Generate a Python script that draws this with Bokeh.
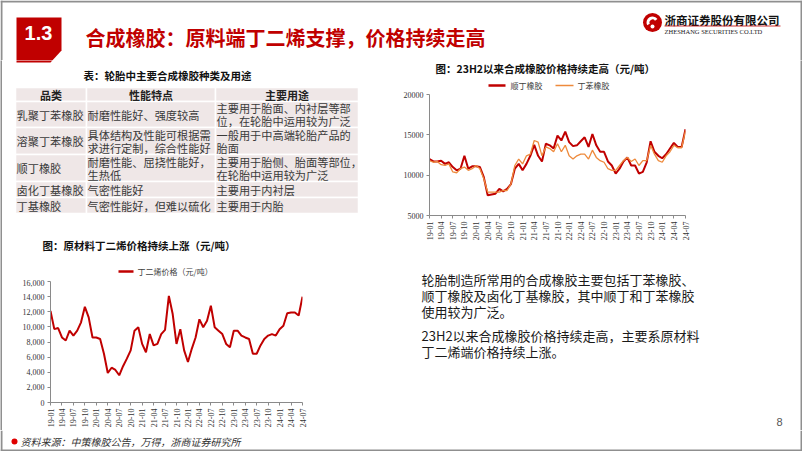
import math
from bokeh.plotting import figure
from bokeh.layouts import column, row
from bokeh.models import Range1d, FixedTicker, NumeralTickFormatter
from bokeh.core.properties import value
from bokeh.embed import file_html
from bokeh.resources import INLINE

# ---------------- data ----------------
MONTHS = [f"{y - 2000}-{m:02d}" for y in range(2019, 2025) for m in range(1, 13)][:67]
TICK_LABELS = ["19-01", "19-04", "19-07", "19-10", "20-01", "20-04", "20-07", "20-10",
               "21-01", "21-04", "21-07", "21-10", "22-01", "22-04", "22-07", "22-10",
               "23-01", "23-04", "23-07", "23-10", "24-01", "24-04", "24-07"]

BUTADIENE = [12100, 9700, 9850, 8600, 8200, 9500, 8850, 9500, 10600, 12650, 11250, 8600,
             8600, 8400, 6450, 3900, 4600, 4300, 3600, 4800, 5800, 6900, 9500, 9950,
             7750, 6650, 9050, 7550, 7750, 9050, 9600, 14100, 11700, 7750, 9700, 6900,
             5350, 7100, 8600, 11000, 9950, 10800, 12800, 9950, 9500, 9050, 7750, 7300,
             9500, 9500, 8850, 8600, 8400, 6450, 6450, 7550, 8400, 8850, 9050, 8850,
             9700, 10150, 11800, 11900, 11900, 11500, 14000]

BR = [12000, 11700, 11700, 11800, 11400, 11600, 11000, 10600, 10800, 12400, 10800, 11100,
      11100, 11000, 9750, 7500, 7600, 7700, 8300, 8000, 8300, 8900, 10800, 11400,
      10600, 11400, 12400, 13750, 12400, 11700, 13900, 13700, 13300, 14900, 14300, 15400,
      14100, 13600, 13700, 14200, 14700, 13500, 15100, 13700, 12900, 12900, 11700, 11200,
      10200, 10800, 11700, 12200, 11200, 11200, 10200, 10400, 11600, 14200, 12900, 12400,
      12100, 12600, 13300, 14000, 13500, 13500, 15700]

SBR = [11800, 11600, 11700, 11300, 11200, 11400, 10400, 10300, 10800, 11000, 10600, 10800,
       11200, 10800, 9550, 7900, 7900, 7900, 7900, 8100, 8100, 8900, 11200, 12000,
       11400, 12400, 12600, 14300, 14100, 12400, 13500, 13300, 12900, 13900, 12900, 13700,
       12400, 12000, 12400, 12600, 12600, 12000, 13100, 12200, 11800, 11600, 10800, 10600,
       10600, 11200, 11800, 12200, 11700, 12000, 11200, 11800, 11800, 13700, 12600, 11800,
       11600, 12400, 12900, 13700, 13400, 13400, 15500]

LEFT_Y_TICKS = [0, 2000, 4000, 6000, 8000, 10000, 12000, 14000, 16000]
RIGHT_Y_TICKS = [5000, 10000, 15000, 20000]

TABLE_HEADER = ["品类", "性能特点", "主要用途"]
TABLE_ROWS = [
    (["乳聚丁苯橡胶"], ["耐磨性能好、强度较高"], ["主要用于胎面、内衬层等部", "位，在轮胎中运用较为广泛"]),
    (["溶聚丁苯橡胶"], ["具体结构及性能可根据需", "求进行定制，综合性能好"], ["一般用于中高端轮胎产品的", "胎面"]),
    (["顺丁橡胶"], ["耐磨性能、屈挠性能好，", "生热低"], ["主要用于胎侧、胎面等部位，", "在轮胎中运用较为广泛"]),
    (["卤化丁基橡胶"], ["气密性能好"], ["主要用于内衬层"]),
    (["丁基橡胶"], ["气密性能好，但难以硫化"], ["主要用于内胎"]),
]

TITLE = "合成橡胶：原料端丁二烯支撑，价格持续走高"
SECTION = "1.3"
TABLE_TITLE = "表：轮胎中主要合成橡胶种类及用途"
LEFT_TITLE = "图：原材料丁二烯价格持续上涨（元/吨）"
LEFT_LEGEND = "丁二烯价格（元/吨）"
RIGHT_TITLE = "图：23H2以来合成橡胶价格持续走高（元/吨）"
RIGHT_LEGEND = ["顺丁橡胶", "丁苯橡胶"]
BODY_LINES = [["轮胎制造所常用的合成橡胶主要包括丁苯橡胶、",
               "顺丁橡胶及卤化丁基橡胶，其中顺丁和丁苯橡胶",
               "使用较为广泛。"],
              ["23H2以来合成橡胶价格持续走高，主要系原材料",
               "丁二烯端价格持续上涨。"]]
SOURCE = "资料来源：中策橡胶公告，万得，浙商证券研究所"
PAGE = "8"

# ---------------- styles ----------------
RED = "#C00000"
ORANGE = "#EE8A3C"
BORDER = "#8f8f8f"
CJK = value("Noto Sans CJK SC")
SERIF = "Liberation Serif"


def slide_fig(x0, x1, y0, y1):
    p = figure(width=x1 - x0, height=y1 - y0,
               x_range=Range1d(x0, x1), y_range=Range1d(y1, y0),
               output_backend="svg", toolbar_location=None,
               x_axis_location=None, y_axis_location=None, min_border=0)
    p.frame_align = False
    p.grid.visible = False
    p.outline_line_color = None
    p.background_fill_color = "white"
    p.border_fill_color = "white"
    return p


def txt(p, x, y, s, size, color="#222222", font=CJK, style="normal", align="left"):
    p.text(x=[x], y=[y], text=[s], text_font=font, text_font_size=f"{size}px",
           text_font_style=style, text_color=color, text_align=align,
           text_baseline="middle")


def draw_badge(p):
    p.patch([16, 61, 61, 50, 16], [17, 17, 50, 62, 62], fill_color=RED, line_color=None)


def chart_fig(x0, x1, y0, y1, frame, yr, yticks, fmt):
    fl, ft, fr, fb = frame
    p = figure(width=x1 - x0, height=y1 - y0,
               x_range=Range1d(0, len(MONTHS) - 1), y_range=Range1d(*yr),
               output_backend="svg", toolbar_location=None,
               min_border_left=fl - x0, min_border_right=x1 - fr,
               min_border_top=ft - y0, min_border_bottom=y1 - fb)
    p.frame_align = False
    p.grid.visible = False
    p.outline_line_color = None
    for ax in (p.xaxis[0], p.yaxis[0]):
        ax.axis_line_color = "#8a8a8a"
        ax.major_tick_line_color = "#8a8a8a"
        ax.minor_tick_line_color = None
        ax.major_tick_out = 3
        ax.major_tick_in = 0
        ax.major_label_text_font = SERIF
        ax.major_label_text_font_size = "8px"
        ax.major_label_text_color = "#333333"
        ax.major_label_standoff = 3
    tick_idx = [MONTHS.index(t) for t in TICK_LABELS]
    p.xaxis.ticker = FixedTicker(ticks=tick_idx)
    p.xaxis.major_label_overrides = {i: MONTHS[i] for i in tick_idx}
    p.xaxis.major_label_orientation = math.pi / 2
    p.yaxis.ticker = FixedTicker(ticks=yticks)
    p.yaxis.formatter = NumeralTickFormatter(format=fmt)
    return p


# ---------------- header (0-60) ----------------
hdr = slide_fig(0, 802, 0, 60)
hdr.quad(left=[0, 0, 800], right=[802, 2, 802], top=[0, 0, 0], bottom=[2, 60, 60],
         fill_color=BORDER, line_color=None)
draw_badge(hdr)
txt(hdr, 38, 32, SECTION, 20, color="white", font=value("Liberation Sans"), style="bold", align="center")
txt(hdr, 85, 37, TITLE, 20, color=RED, style="bold")
# logo
hdr.scatter(x=[652], y=[22], size=19, fill_color=RED, line_color=None)
hdr.annular_wedge(x=[652], y=[22], inner_radius=3, outer_radius=6, start_angle=0.6, end_angle=3.6,
                  fill_color="white", line_color=None)
hdr.scatter(x=[652], y=[26], size=4, fill_color="white", line_color=None)
txt(hdr, 664, 19, "浙商证券股份有限公司", 11.5, color="#111111", style="bold")
hdr.line([664, 780], [25.5, 25.5], line_color=RED, line_width=0.8)
txt(hdr, 664, 31, "ZHESHANG SECURITIES CO.LTD", 6.5, color="#222222", font=value(SERIF))

# ---------------- left column ----------------
tab = slide_fig(2, 400, 60, 232)
draw_badge(tab)
txt(tab, 167, 75, TABLE_TITLE, 10.5, color="#111111", style="bold", align="center")
cols = [15, 86, 215, 358]
rows_b = [87, 101, 127, 154, 181, 197, 213]
L, R, T, B = [], [], [], []
for r in range(len(rows_b) - 1):
    for c in range(3):
        L.append(cols[c]); R.append(cols[c + 1]); T.append(rows_b[r]); B.append(rows_b[r + 1])
tab.quad(left=L, right=R, top=T, bottom=B, fill_color="#EFE7E7", line_color="white", line_width=1.5)
for c, h in enumerate(TABLE_HEADER):
    txt(tab, (cols[c] + cols[c + 1]) / 2, 94, h, 11, color="#222222", style="bold", align="center")
text_x = [16, 87, 216]
for r, cells in enumerate(TABLE_ROWS):
    mid = (rows_b[r + 1] + rows_b[r + 2]) / 2
    for c, lines in enumerate(cells):
        n = len(lines)
        for i, ln in enumerate(lines):
            txt(tab, text_x[c], mid + (i - (n - 1) / 2) * 13, ln, 11.2, color="#3a3a3a")

headL = slide_fig(2, 400, 232, 279)
txt(headL, 42, 245, LEFT_TITLE, 10.5, color="#111111", style="bold")
headL.line([118, 133], [271, 271], line_color=RED, line_width=2.5)
txt(headL, 137, 271, LEFT_LEGEND, 8, color="#404040")

chartL = chart_fig(2, 400, 279, 430, (50, 281, 302, 402), (0, 16000), LEFT_Y_TICKS, "0,0")
chartL.line(x=list(range(len(BUTADIENE))), y=BUTADIENE, line_color=RED, line_width=2)

# ---------------- right column ----------------
headR = slide_fig(400, 800, 60, 90)
txt(headR, 435, 68, RIGHT_TITLE, 10.5, color="#111111", style="bold")
headR.line([488, 505], [85, 85], line_color=RED, line_width=2.5)
txt(headR, 510, 85, RIGHT_LEGEND[0], 8, color="#404040")
headR.line([555, 573], [85, 85], line_color=ORANGE, line_width=1.5)
txt(headR, 577, 85, RIGHT_LEGEND[1], 8, color="#404040")

chartR = chart_fig(400, 800, 90, 255, (429, 94, 685, 215), (5000, 20000), RIGHT_Y_TICKS, "0")
xs = list(range(len(MONTHS)))
chartR.line(x=xs, y=BR, line_color=RED, line_width=2)
chartR.line(x=xs, y=SBR, line_color=ORANGE, line_width=1.3)

textF = slide_fig(400, 800, 255, 430)
y = 279
for para in BODY_LINES:
    for ln in para:
        txt(textF, 421, y, ln, 13, color="#1a1a1a")
        y += 16
    y += 8
txt(textF, 779, 421, PAGE, 11, color="#555555", font=value("Liberation Sans"), align="center")

# side borders
bl = slide_fig(0, 2, 60, 430)
bl.background_fill_color = BORDER
bl.border_fill_color = BORDER
br = slide_fig(800, 802, 60, 430)
br.background_fill_color = BORDER
br.border_fill_color = BORDER

# ---------------- footer ----------------
foot = slide_fig(0, 802, 430, 451)
foot.quad(left=[0, 0, 800], right=[802, 2, 802], top=[449, 430, 430], bottom=[451, 451, 451],
          fill_color=BORDER, line_color=None)
foot.scatter(x=[14], y=[441], size=6, fill_color="#E00000", line_color=None)
txt(foot, 20, 441, SOURCE, 10, color="#333333", style="italic")

layout = column(hdr,
                row(bl, column(tab, headL, chartL), column(headR, chartR, textF), br),
                foot)

open("out.html", "w").write(file_html(layout, INLINE))
